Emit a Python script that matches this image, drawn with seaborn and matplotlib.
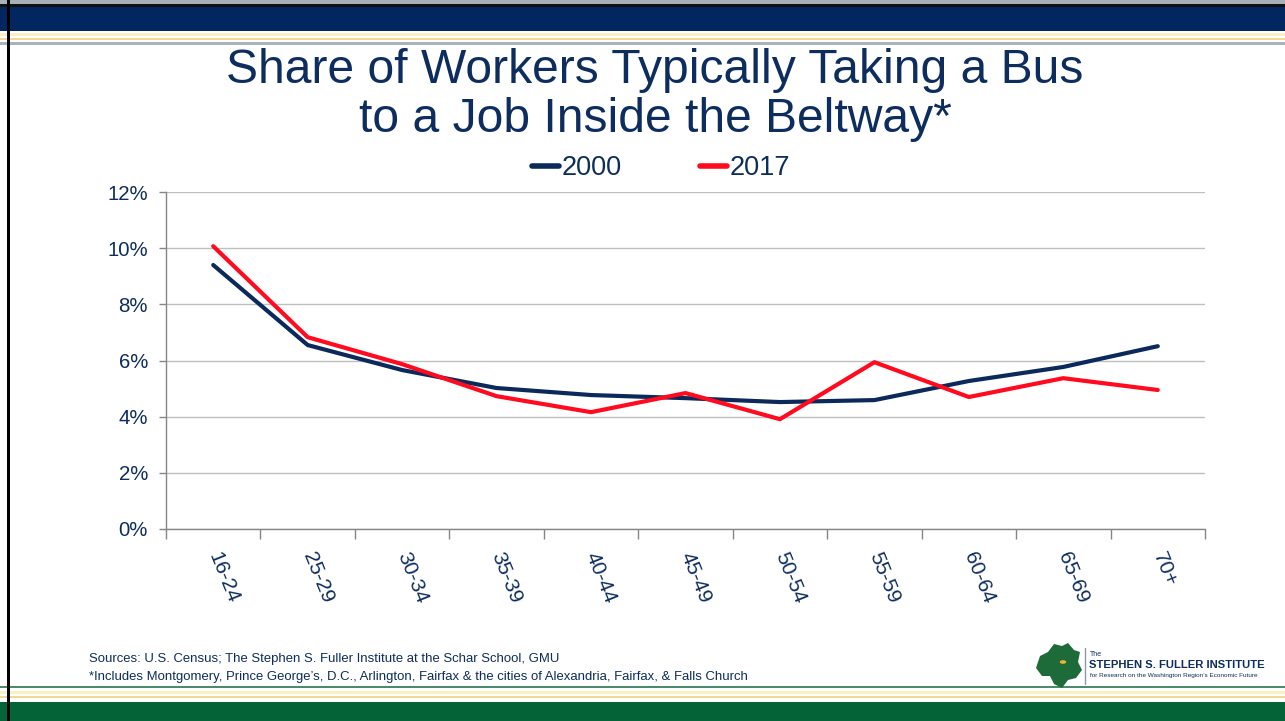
import pandas as pd
import matplotlib.pyplot as plt
import matplotlib.patches as mpatches
from matplotlib.lines import Line2D
from matplotlib.ticker import FixedLocator, PercentFormatter
import seaborn as sns

# age groups and share of workers taking a bus (%)
age_groups = ['16-24', '25-29', '30-34', '35-39', '40-44', '45-49',
              '50-54', '55-59', '60-64', '65-69', '70+']
share_2000 = [9.4, 6.55, 5.66, 5.02, 4.77, 4.66, 4.52, 4.59, 5.27, 5.77, 6.51]
share_2017 = [10.07, 6.83, 5.87, 4.73, 4.16, 4.84, 3.91, 5.94, 4.70, 5.37, 4.95]
years = ['2000', '2017']

NAVY = '#0B2A5B'
RED = '#FF0A1E'
TXT = '#0D2D5E'

df = pd.DataFrame({
    'age': age_groups * 2,
    'share': share_2000 + share_2017,
    'year': [years[0]] * len(age_groups) + [years[1]] * len(age_groups),
})
df['pos'] = list(range(len(age_groups))) * 2

sns.set_style('white')
plt.rcParams['font.family'] = ['Liberation Sans', 'DejaVu Sans']

fig = plt.figure(figsize=(12.85, 7.21), dpi=100)
W, H = 1285, 721


def band(y0, y1, color, x0=0, x1=W):
    # rectangle in pixel coords (top-origin)
    fig.add_artist(mpatches.Rectangle((x0 / W, 1 - y1 / H), (x1 - x0) / W, (y1 - y0) / H,
                                      transform=fig.transFigure, color=color, lw=0, zorder=0))


# top banner
band(0, 4, '#A8B0B8')
band(4, 7, '#111111')
band(7, 31, '#022760')
band(33, 36, '#FBF0C4')
band(38, 40, '#F2D890')
band(42, 45, '#A9B3BE')
# bottom banner
band(686, 688, '#4D8A6B')
band(691, 694, '#FBF0C4')
band(696, 698, '#F2D890')
band(702, 721, '#046437')
# left border
band(0, 721, '#000000', x0=7, x1=10)

ax = fig.add_axes([166 / W, 1 - 529 / H, (1205 - 166) / W, (529 - 192) / H])
sns.lineplot(data=df, x='pos', y='share', hue='year', palette=[NAVY, RED],
             linewidth=3, ax=ax, legend=False)

ax.set_xlim(-0.5, len(age_groups) - 0.5)
ax.set_ylim(0, 12)
ax.set_yticks(range(0, 13, 2))
ax.yaxis.set_major_formatter(PercentFormatter(decimals=0))
ax.xaxis.set_major_locator(FixedLocator([i - 0.5 for i in range(len(age_groups) + 1)]))
ax.xaxis.set_major_formatter(plt.NullFormatter())
ax.xaxis.set_minor_locator(FixedLocator(range(len(age_groups))))
ax.set_xticklabels(age_groups, minor=True, rotation=-68, rotation_mode='anchor',
                   ha='left', va='center', fontsize=15, color=TXT)
ax.tick_params(axis='x', which='major', length=7, width=1, color='#868686', direction='out', bottom=True)
ax.tick_params(axis='x', which='minor', length=0, pad=17, bottom=True)
ax.tick_params(axis='y', length=5, width=1, color='#868686', direction='out', left=True,
               labelsize=14.7, labelcolor=TXT, pad=8)
ax.grid(axis='y', color='#BFBFBF', lw=1)
ax.set_xlabel('')
ax.set_ylabel('')
for s in ['top', 'right']:
    ax.spines[s].set_visible(False)
for s in ['left', 'bottom']:
    ax.spines[s].set_color('#868686')
    ax.spines[s].set_linewidth(1)

handles = [Line2D([], [], color=NAVY, lw=4, solid_capstyle='round'),
           Line2D([], [], color=RED, lw=4, solid_capstyle='round')]
fig.legend(handles, years, loc='center', bbox_to_anchor=(661 / W, 1 - 168 / H), ncol=2,
           frameon=False, fontsize=19.5, handlelength=1.0, handletextpad=0.1,
           columnspacing=2.9, labelcolor=TXT)

fig.text(655 / W, 1 - 95 / H, 'Share of Workers Typically Taking a Bus\nto a Job Inside the Beltway*',
         ha='center', va='center', fontsize=34.6, color=TXT, linespacing=1.1)

fig.text(89 / W, 1 - 659 / H, 'Sources: U.S. Census; The Stephen S. Fuller Institute at the Schar School, GMU',
         fontsize=9.45, color=TXT, va='center')
fig.text(89 / W, 1 - 677 / H,
         '*Includes Montgomery, Prince George\u2019s, D.C., Arlington, Fairfax & the cities of Alexandria, Fairfax, & Falls Church',
         fontsize=9.45, color=TXT, va='center')

# logo
shape = [(1036, 668), (1040, 656), (1048, 652), (1054, 644), (1062, 646), (1068, 643),
         (1074, 650), (1080, 652), (1078, 662), (1082, 670), (1076, 678), (1068, 680),
         (1062, 688), (1054, 684), (1050, 676), (1042, 676)]
fig.add_artist(mpatches.Polygon([(x / W, 1 - y / H) for x, y in shape], closed=True,
                                transform=fig.transFigure, color='#1E6B3A', lw=0))
fig.add_artist(mpatches.Circle((1063 / W, 1 - 662 / H), 0.0025, transform=fig.transFigure,
                               color='#F2B134', lw=0))
fig.add_artist(Line2D([1085 / W, 1085 / W], [1 - 648 / H, 1 - 684 / H], transform=fig.transFigure,
                      color='#8A9AAA', lw=1))
fig.text(1090 / W, 1 - 654 / H, 'The', fontsize=5, color=TXT, va='center')
fig.text(1089 / W, 1 - 665 / H, 'STEPHEN S. FULLER INSTITUTE', fontsize=8.15, color=TXT,
         fontweight='bold', va='center')
fig.text(1090 / W, 1 - 676 / H, 'for Research on the Washington Region\u2019s Economic Future',
         fontsize=4.6, color=TXT, va='center')

fig.savefig('out.png', dpi=100)
